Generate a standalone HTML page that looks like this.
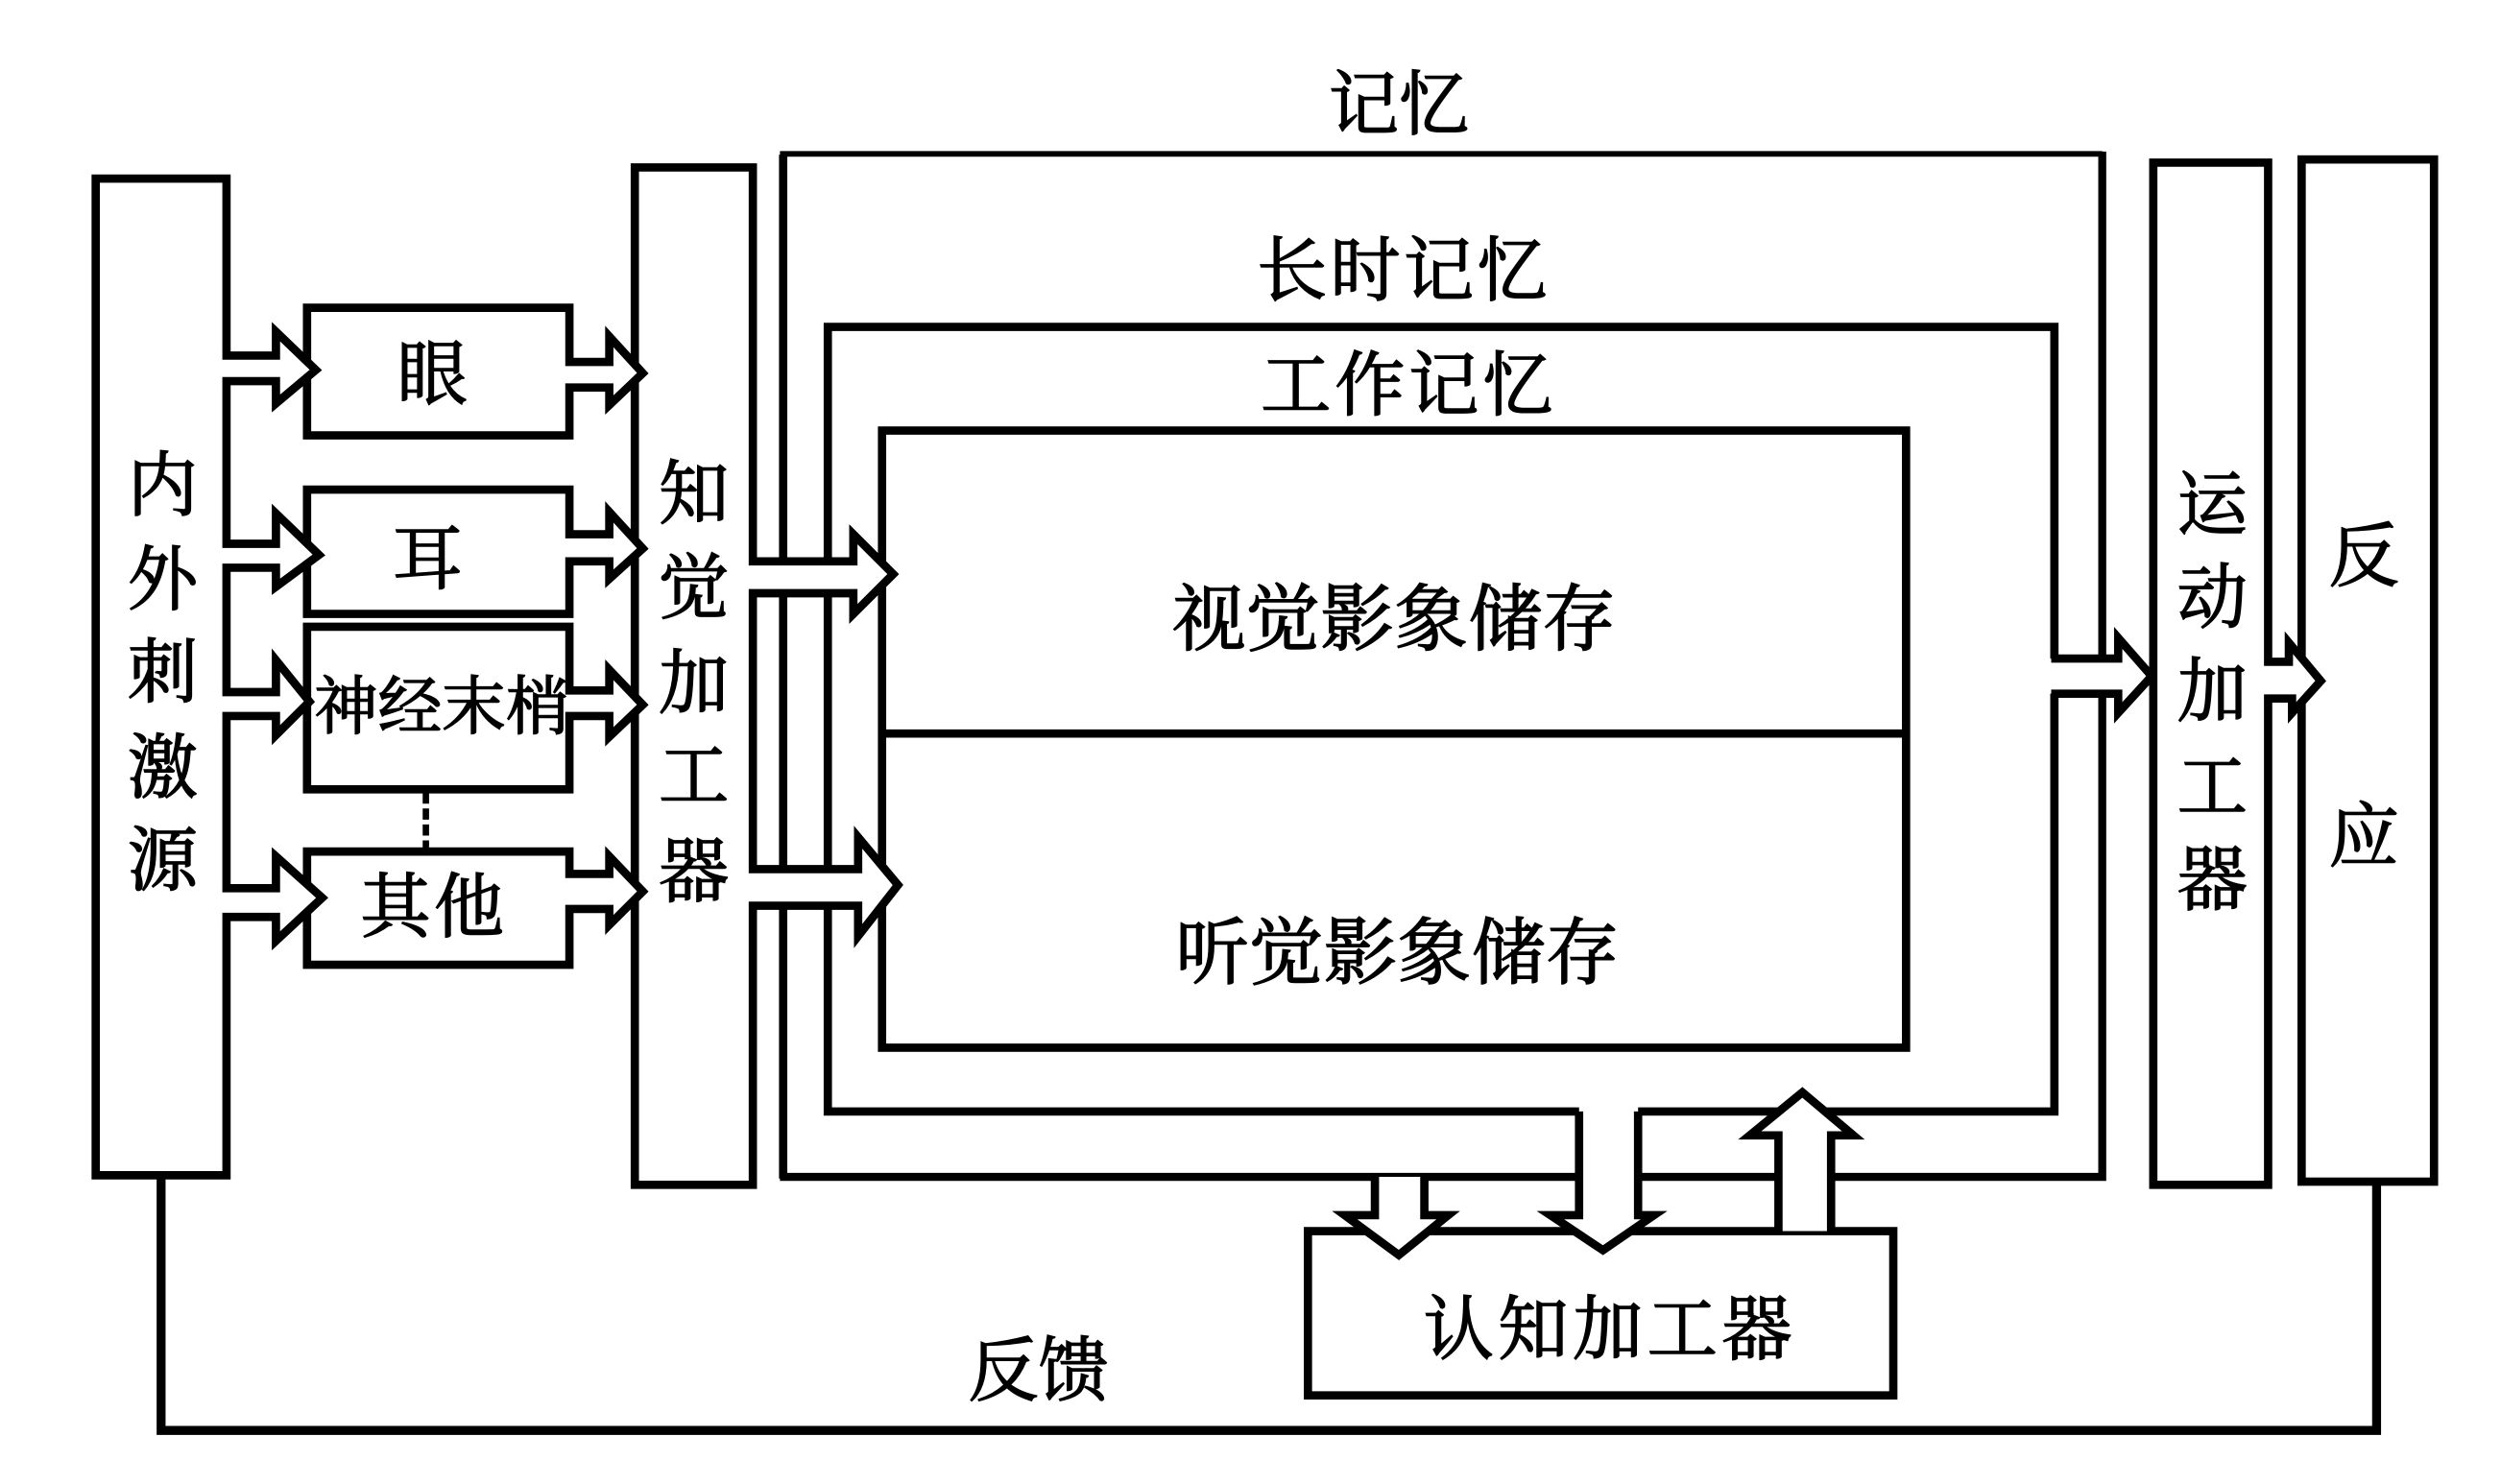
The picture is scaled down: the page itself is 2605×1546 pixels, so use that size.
<!DOCTYPE html>
<html lang="zh-CN"><head><meta charset="utf-8"><title>信息加工模型</title>
<style>html,body{margin:0;padding:0;background:#fff}svg{display:block}
text{font-family:"Liberation Serif","Noto Serif CJK SC",serif;fill:#000;stroke:#000;stroke-width:.9;dominant-baseline:central;text-anchor:middle}</style></head>
<body>
<svg width="2605" height="1546" viewBox="0 0 1568 930.6" preserveAspectRatio="none" xmlns="http://www.w3.org/2000/svg">
<g fill="none" stroke="#000" stroke-width="5.2" stroke-linejoin="miter">
<!-- feedback -->
<path d="M101 737V897H1490V741" stroke-width="5.6"/>
<!-- memory -->
<path d="M491 739V97" stroke-width="5.2"/>
<path d="M489 96.5H1318" stroke-width="3.6"/>
<path d="M1318 95V738H489" stroke-width="5"/>
<path d="M990 697H519V205H1288V413M1288 435V697H1027" />
<!-- working -->
<rect x="553" y="270" width="642" height="387" />
<path d="M553 460H1195"/>
<!-- cognitive -->
<path d="M820 772H1187V875H820Z" fill="#fff"/>
<g fill="#fff">
<path d="M862 738V762H843L877 787L908 762H893V738"/>
<path d="M990 697V762H972L1005 784L1037 762H1027V697"/>
<path d="M1115 772V712H1097L1130 685L1162 712H1148V772"/>
<path d="M1286 413H1328V400L1349 424L1328 447V435H1286"/>
<!-- 知觉 -->
<path d="M398 105H472V352H535V335L560 360L535 385V372H472V545H538V525L563 555L538 587V568H472V743H398Z"/>
<!-- small boxes -->
<path d="M192.5 193H357V227H382V211L403 234L382 254V243H357V273H192.5Z"/>
<path d="M192.5 307H357V335H382V321L403 344L382 363V352H357V385H192.5Z"/>
<path d="M192.5 393H357V433H382V420L403 442L382 462V449H357V495H192.5Z"/>
<path d="M192.5 534H357V548H382V537L403 559L382 580V570H357V605H192.5Z"/>
<!-- stimulus -->
<path d="M60 112H142V223H173V208L198 232L173 253V239H142V341H173V322L200 348L173 368V356H142V434H173V414L194 440L173 461V449H142V557H173V537L202 563L173 590V575H142V737H60Z"/>
<!-- reaction -->
<rect x="1443" y="100" width="83" height="641"/>
<!-- motor -->
<path d="M1350 102H1422V415H1435V403L1455 427L1437 447V438H1422V743H1350Z"/>
</g>
<path d="M267 497V533" fill="none" stroke="#000" stroke-width="4" stroke-dasharray="7 3"/>
<g font-size="44">
<text x="102" y="305">内</text><text x="102" y="364">外</text><text x="102" y="422">刺</text><text x="102" y="482">激</text><text x="102" y="540">源</text>
<text x="435" y="310">知</text><text x="435" y="369">觉</text><text x="435" y="429">加</text><text x="435" y="487">工</text><text x="435" y="547">器</text>
<text x="1387" y="317">运</text><text x="1387" y="375">动</text><text x="1387" y="434">加</text><text x="1387" y="494">工</text><text x="1387" y="552">器</text>
<text x="1482" y="349">反</text><text x="1482" y="525">应</text>
<text x="271" y="235">眼</text><text x="268" y="351">耳</text>
<text x="271" y="569" textLength="90" lengthAdjust="spacing">其他</text>
<text x="877" y="66" textLength="88" lengthAdjust="spacing">记忆</text>
<text x="879" y="170" textLength="182" lengthAdjust="spacing">长时记忆</text>
<text x="882" y="242" textLength="183" lengthAdjust="spacing">工作记忆</text>
<text x="1008" y="834" textLength="231" lengthAdjust="spacing">认知加工器</text>
<text x="651" y="860" textLength="88" lengthAdjust="spacing">反馈</text>
</g>
<g font-size="46" style="stroke-width:1.7">
<text x="874" y="389" textLength="278" lengthAdjust="spacing">视觉影象储存</text>
<text x="876" y="598" textLength="278" lengthAdjust="spacing">听觉影象储存</text>
</g>
<text x="277" y="444" font-size="40" textLength="160" lengthAdjust="spacing">神经末梢</text>
</svg>
</body></html>
